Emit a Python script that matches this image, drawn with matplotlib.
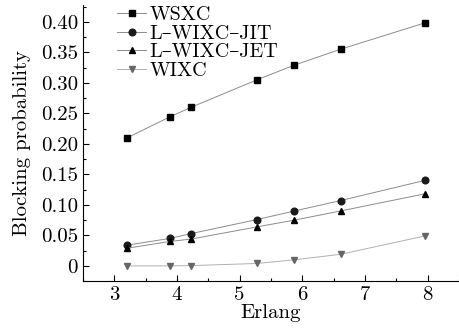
import numpy as np
import matplotlib.pyplot as plt
from matplotlib.ticker import MultipleLocator, FuncFormatter

plt.rcParams['font.family'] = ['cmr10', 'DejaVu Serif']
plt.rcParams['mathtext.fontset'] = 'cm'
plt.rcParams['axes.formatter.use_mathtext'] = True

erlang = [3.21, 3.885, 4.23, 5.28, 5.875, 6.61, 7.95]
wsxc = [0.210, 0.244, 0.260, 0.305, 0.329, 0.355, 0.398]
jit  = [0.034, 0.045, 0.053, 0.076, 0.090, 0.107, 0.140]
jet  = [0.029, 0.040, 0.044, 0.064, 0.075, 0.090, 0.118]
wixc = [0.000, 0.000, 0.0005, 0.004, 0.010, 0.019, 0.049]
labels = ['WSXC', 'L–WIXC–JIT', 'L–WIXC–JET', 'WIXC']

fig = plt.figure(figsize=(4.6, 3.3), dpi=100)
ax = fig.add_axes([0.180, 0.148, 0.818, 0.836])

series = [wsxc, jit, jet, wixc]
markers = ['s', 'o', '^', 'v']
mcolors = ['#000000', '#1a1a1a', '#000000', '#666666']
lcolors = ['#8c8c8c', '#8c8c8c', '#8c8c8c', '#b0b0b0']
for ys, m, mc, lc, lab in zip(series, markers, mcolors, lcolors, labels):
    ax.plot(erlang, ys, color=lc, linewidth=0.7, marker=m, markersize=4.8,
            markerfacecolor=mc, markeredgecolor=mc, label=lab)

ax.set_xlim(2.5, 8.5)
ax.set_ylim(-0.025, 0.427)
ax.xaxis.set_major_locator(MultipleLocator(1))
ax.xaxis.set_minor_locator(MultipleLocator(0.5))
ax.yaxis.set_major_locator(MultipleLocator(0.05))
ax.yaxis.set_minor_locator(MultipleLocator(0.025))
ax.yaxis.set_major_formatter(FuncFormatter(lambda v, p: '0' if abs(v) < 1e-9 else f'{v:.2f}'))
ax.xaxis.set_major_formatter(FuncFormatter(lambda v, p: f'{v:.0f}'))
ax.tick_params(which='both', direction='in', labelsize=15)
ax.tick_params(which='major', length=4, width=0.8)
ax.tick_params(which='minor', length=2.5, width=0.8)
ax.spines['top'].set_visible(False)
ax.spines['right'].set_visible(False)

ax.set_xlabel('Erlang', fontsize=15, labelpad=0)
ax.set_ylabel('Blocking probability', fontsize=15, labelpad=7)

ax.legend(loc='upper left', bbox_to_anchor=(0.06, 1.04), frameon=False,
          fontsize=14.5, handlelength=1.4, handletextpad=0.2, labelspacing=0.02,
          borderaxespad=0.2)

fig.savefig('out.png', dpi=100)
